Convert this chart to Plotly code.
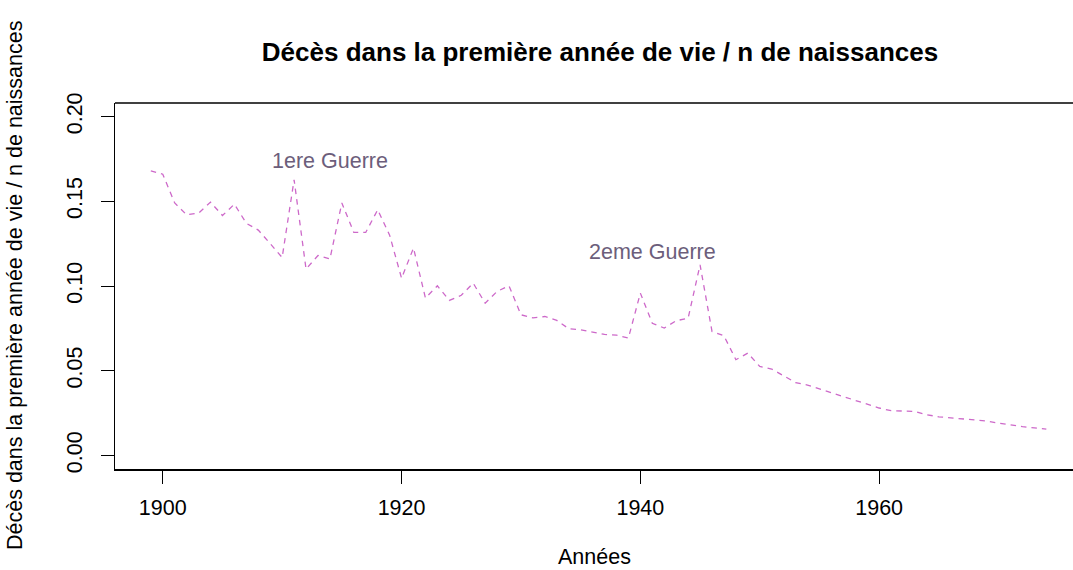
import plotly.graph_objects as go

# Infant mortality: deaths in the first year of life per birth, by year
years = list(range(1899, 1975))
deaths_ratio = [
    0.168, 0.166, 0.149, 0.142, 0.143, 0.1495, 0.1416, 0.1483, 0.137, 0.133,
    0.125, 0.1168, 0.1627, 0.110, 0.118, 0.116, 0.149, 0.1316, 0.1316, 0.145,
    0.130, 0.1046, 0.1224, 0.0929, 0.1001, 0.0915, 0.0945, 0.1017, 0.0899, 0.0968,
    0.1001, 0.083, 0.0812, 0.082, 0.0797, 0.0748, 0.0742, 0.073, 0.0714, 0.071,
    0.0693, 0.0958, 0.078, 0.0752, 0.0795, 0.081, 0.1125, 0.0732, 0.0706, 0.0565,
    0.0604, 0.0525, 0.051, 0.047, 0.043, 0.0415, 0.0392, 0.0372, 0.0345, 0.0325,
    0.0303, 0.028, 0.0264, 0.0264, 0.026, 0.024, 0.0228, 0.0222, 0.0215, 0.0209,
    0.0203, 0.0191, 0.018, 0.017, 0.0163, 0.0155,
]

x_ticks = [1900, 1920, 1940, 1960]
y_ticks = [0.0, 0.05, 0.10, 0.15, 0.20]
y_tick_labels = ["0.00", "0.05", "0.10", "0.15", "0.20"]

war_labels = ["1ere Guerre", "2eme Guerre"]
war_label_x = [1914, 1941]
war_label_y = [0.174, 0.12]

title = "Décès dans la première année de vie / n de naissances"
x_title = "Années"
y_title = "Décès dans la première année de vie / n de naissances"

FONT = "Liberation Sans, Arial, Helvetica, sans-serif"
BASE = 21.5
LINE_COLOR = "#CD69C9"
NOTE_COLOR = "#6C5E7B"

fig = go.Figure()
fig.add_trace(go.Scatter(
    x=years, y=deaths_ratio, mode="lines",
    line=dict(color=LINE_COLOR, width=1.3, dash="5.5px,5px"),
    hoverinfo="x+y", showlegend=False,
))

for txt, xv, yv in zip(war_labels, war_label_x, war_label_y):
    fig.add_annotation(x=xv, y=yv, text=txt, showarrow=False,
                       xanchor="center", yanchor="middle",
                       font=dict(family=FONT, size=BASE, color=NOTE_COLOR))

# axis titles
fig.add_annotation(xref="paper", yref="paper", x=0.5, y=0, yshift=-88,
                   text=x_title, showarrow=False, xanchor="center", yanchor="middle",
                   font=dict(family=FONT, size=BASE, color="black"))
fig.add_annotation(xref="paper", yref="paper", x=0, y=0.5, xshift=-100,
                   text=y_title, showarrow=False, textangle=-90,
                   xanchor="center", yanchor="middle",
                   font=dict(family=FONT, size=BASE, color="black"))

# top border of the plotting box
fig.add_shape(type="line", xref="paper", yref="paper", x0=0, x1=1, y0=1, y1=1,
              line=dict(color="black", width=1.3))

fig.update_layout(
    width=1073, height=570,
    margin=dict(l=115, r=0, t=103, b=101),
    paper_bgcolor="white", plot_bgcolor="white",
    font=dict(family=FONT, size=BASE, color="black"),
    title=dict(text="<b>" + title + "</b>", x=600 / 1073, xref="container",
               xanchor="center", y=1 - 52 / 570, yanchor="middle", yref="container",
               font=dict(family=FONT, size=26, color="black")),
)
fig.update_xaxes(
    range=[1896, 1896 + 958 / 11.94], tickvals=x_ticks,
    showgrid=False, zeroline=False, showline=True, linecolor="black", linewidth=1.5,
    ticks="outside", ticklen=13, tickwidth=1.3, tickcolor="black",
    tickfont=dict(family=FONT, size=BASE, color="black"), ticklabelstandoff=5,
)
fig.update_yaxes(
    range=[-0.008, 0.208], tickvals=y_ticks, ticktext=y_tick_labels,
    showgrid=False, zeroline=False, showline=True, linecolor="black", linewidth=1.3,
    ticks="outside", ticklen=13, tickwidth=1.3, tickcolor="black", tickangle=-90,
    tickfont=dict(family=FONT, size=BASE, color="black"), ticklabelstandoff=10,
)

fig.write_html("out.html")
